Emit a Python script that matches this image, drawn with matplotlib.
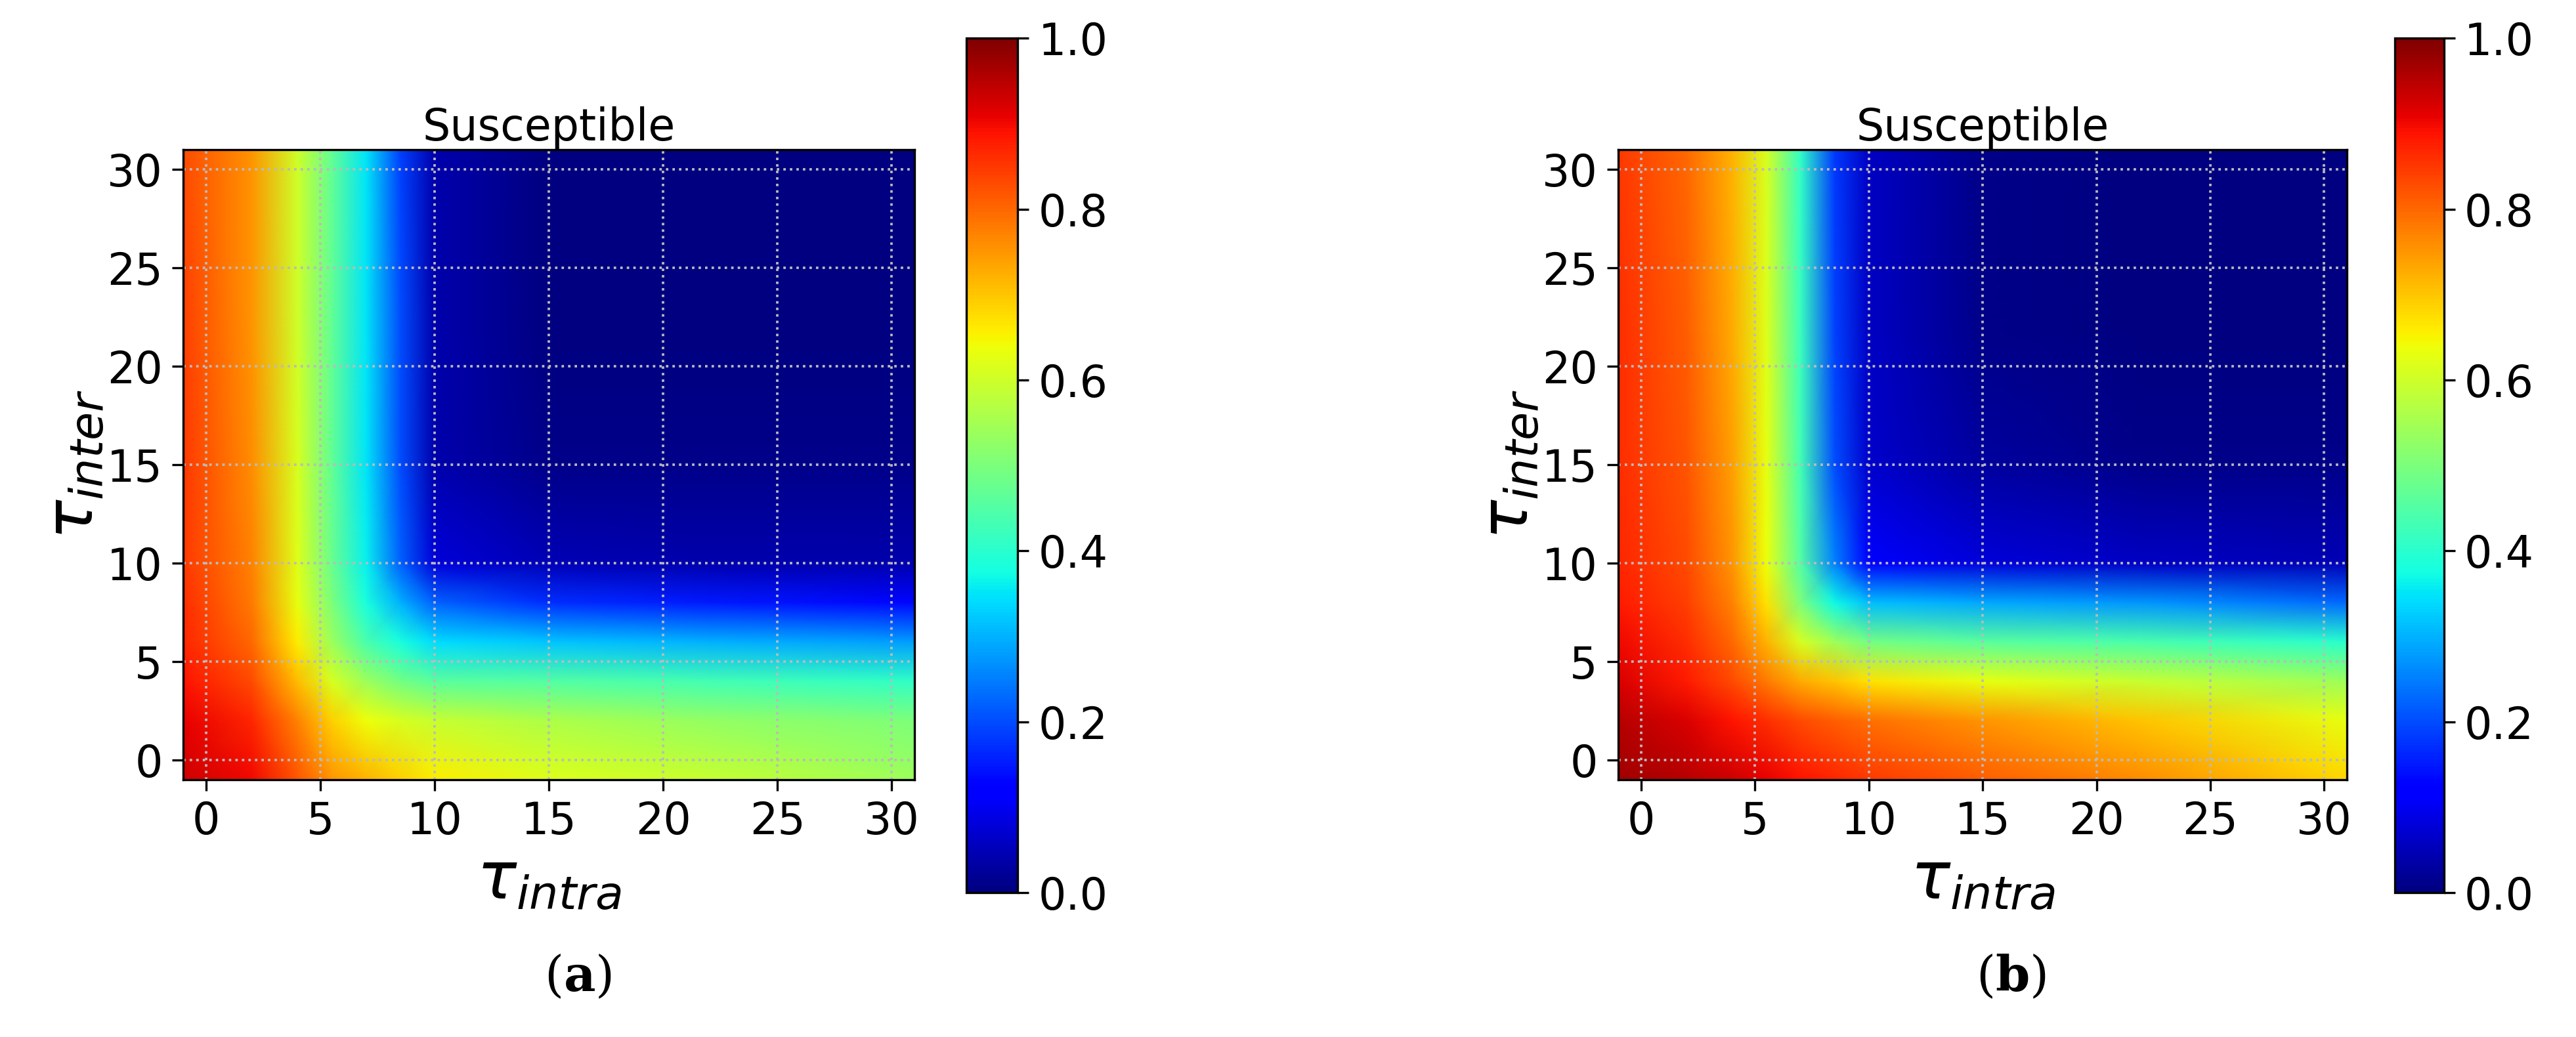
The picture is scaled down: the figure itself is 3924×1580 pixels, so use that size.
import numpy as np
import matplotlib.pyplot as plt

# sample grid (tau_intra along x, tau_inter along y)
tau_intra = [-1, 2, 4, 5.5, 7, 8.5, 10, 15, 22, 31]
tau_inter = [-1, 2, 4, 6, 8, 10, 15, 22, 31]

# panel (a): rows go from tau_inter=-1 up to 31
susc_a = [
    [.93, .90, .82, .75, .72, .69, .66, .62, .59, .54],
    [.91, .87, .77, .69, .64, .61, .59, .56, .53, .50],
    [.89, .83, .71, .61, .54, .49, .46, .45, .43, .41],
    [.87, .80, .66, .54, .44, .38, .34, .32, .30, .28],
    [.86, .78, .63, .50, .38, .30, .22, .17, .15, .13],
    [.85, .77, .62, .48, .36, .22, .08, .05, .04, .04],
    [.85, .76, .61, .47, .35, .20, .04, .01, .01, .01],
    [.84, .75, .60, .47, .35, .20, .04, .00, .00, .00],
    [.83, .75, .60, .47, .35, .19, .04, .00, .00, .00],
]

# panel (b)
susc_b = [
    [.97, .95, .93, .91, .89, .87, .85, .81, .76, .68],
    [.95, .92, .89, .86, .83, .81, .79, .75, .70, .63],
    [.92, .88, .83, .78, .73, .70, .67, .63, .59, .54],
    [.90, .86, .80, .72, .61, .54, .49, .46, .44, .40],
    [.88, .84, .77, .67, .50, .37, .31, .29, .27, .23],
    [.87, .83, .75, .64, .45, .25, .12, .08, .06, .05],
    [.86, .82, .74, .63, .43, .20, .07, .03, .01, .01],
    [.86, .81, .73, .62, .42, .19, .06, .01, .00, .00],
    [.85, .80, .72, .61, .41, .18, .06, .01, .00, .00],
]

ticks = [0, 5, 10, 15, 20, 25, 30]
cbar_ticks = [0.0, 0.2, 0.4, 0.6, 0.8, 1.0]

plt.rcParams['mathtext.fontset'] = 'dejavusans'
fig = plt.figure(figsize=(13.08, 5.2667), dpi=300)

panels = [
    (susc_a, [0.0711, 0.2481, 0.2839, 0.6076], [0.3751, 0.1392, 0.0199, 0.824], 0.2243, 'a'),
    (susc_b, [0.6282, 0.2481, 0.2829, 0.6076], [0.9297, 0.1392, 0.0190, 0.824], 0.7806, 'b'),
]

for data, ax_box, cb_box, lx, letter in panels:
    ax = fig.add_axes(ax_box)
    mesh = ax.pcolormesh(tau_intra, tau_inter, np.array(data), cmap='jet',
                         vmin=0, vmax=1, shading='gouraud')
    ax.set_xlim(-1, 31)
    ax.set_ylim(-1, 31)
    ax.set_xticks(ticks)
    ax.set_yticks(ticks)
    ax.tick_params(labelsize=16, length=4)
    ax.grid(True, color='#bbbbbb', linestyle=':', linewidth=0.9)
    ax.set_title('Susceptible', fontsize=16, pad=2)
    ax.set_xlabel(r'$\tau_{intra}$', fontsize=24, labelpad=2)
    ax.set_ylabel(r'$\tau_{inter}$', fontsize=24, labelpad=0)

    cax = fig.add_axes(cb_box)
    cb = fig.colorbar(mesh, cax=cax, ticks=cbar_ticks)
    cb.ax.tick_params(labelsize=16, length=4)
    cb.ax.set_yticklabels([f'{t:.1f}' for t in cbar_ticks])

    fig.text(lx, 0.057, '(' + r'$\mathbf{' + letter + '}$' + ')', ha='center',
             va='center', fontsize=18, family='serif', math_fontfamily='dejavuserif')

fig.savefig('out.png', dpi=300)
